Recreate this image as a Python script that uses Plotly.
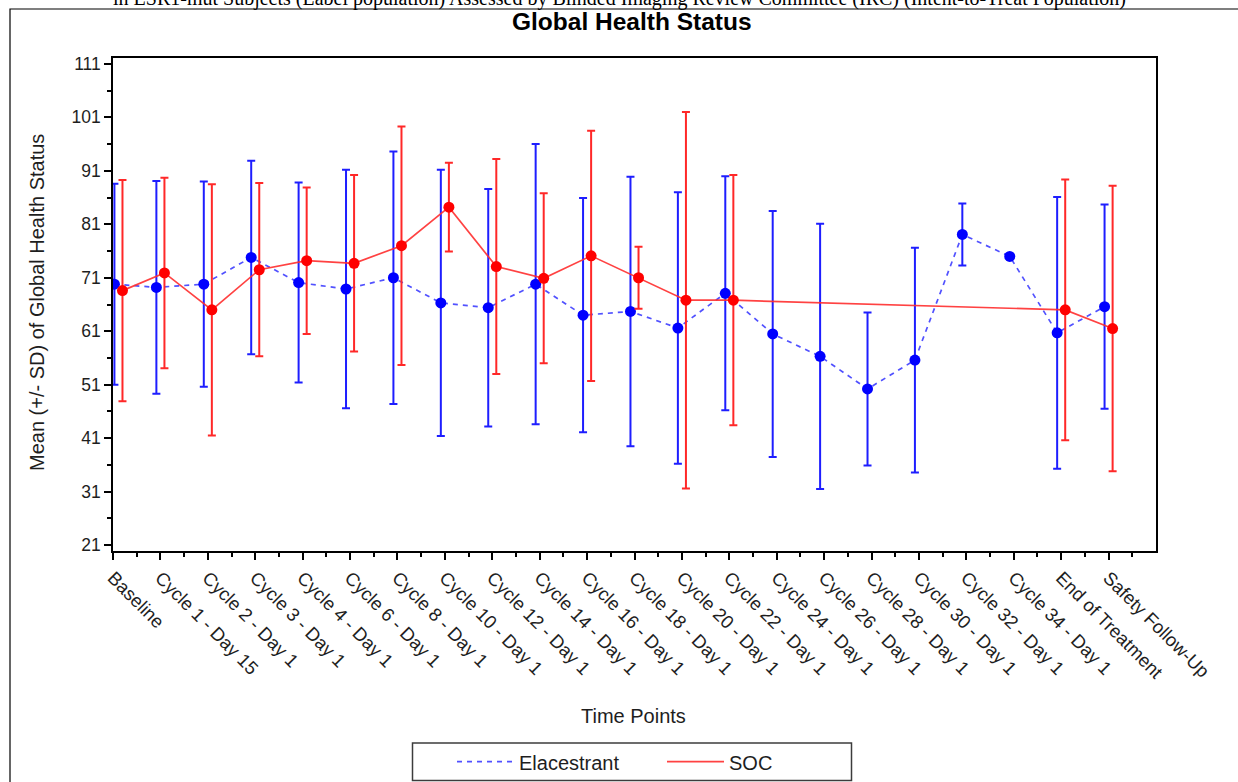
import plotly.graph_objects as go

# ---------------- data ----------------
categories = ["Baseline", "Cycle 1 - Day 15", "Cycle 2 - Day 1", "Cycle 3 - Day 1",
              "Cycle 4 - Day 1", "Cycle 6 - Day 1", "Cycle 8 - Day 1", "Cycle 10 - Day 1",
              "Cycle 12 - Day 1", "Cycle 14 - Day 1", "Cycle 16 - Day 1", "Cycle 18 - Day 1",
              "Cycle 20 - Day 1", "Cycle 22 - Day 1", "Cycle 24 - Day 1", "Cycle 26 - Day 1",
              "Cycle 28 - Day 1", "Cycle 30 - Day 1", "Cycle 32 - Day 1", "Cycle 34 - Day 1",
              "End of Treatment", "Safety Follow-Up"]

elacestrant_mean = [69.8, 69.2, 69.8, 74.8, 70.1, 68.9, 71.0, 66.3, 65.4, 69.8, 64.0,
                    64.7, 61.6, 68.1, 60.5, 56.3, 50.2, 55.6, 79.1, 75.0, 60.7, 65.6]
elacestrant_sd = [18.8, 19.9, 19.2, 18.1, 18.7, 22.3, 23.6, 24.9, 22.2, 26.2, 21.9,
                  25.2, 25.4, 21.9, 23.0, 24.8, 14.3, 21.0, 5.8, None, 25.4, 19.1]

soc_mean = [68.6, 71.9, 65.0, 72.5, 74.2, 73.7, 77.0, 84.2, 73.1, 70.9, 75.1,
            71.0, 66.8, 66.8, None, None, None, None, None, None, 65.0, 61.5]
soc_sd = [20.7, 17.8, 23.5, 16.2, 13.7, 16.5, 22.3, 8.3, 20.1, 15.9, 23.4,
          5.8, 35.2, 23.4, None, None, None, None, None, None, 24.4, 26.7]

y_ticks = [21, 31, 41, 51, 61, 71, 81, 91, 101, 111]

title_text = "Global Health Status"
subtitle_text = ("in ESR1-mut Subjects (Label population) Assessed by Blinded Imaging Review "
                 "Committee (IRC) (Intent-to-Treat Population)")

# ---------------- layout helpers ----------------
W, H = 1238, 782
L, R, T, B = 113, 82, 58, 231
PW, PH = W - L - R, H - T - B


def px_x(p):
    return (p - L) / PW


def px_y(p):
    return (H - B - p) / PH


n = len(categories)
idx = list(range(n))
# cluster positions (first cluster is nudged inside the axis, as in the original)
centers = [i + (0.115 if i == 0 else 0.0) for i in idx]
x_ela = [c - 0.085 for c in centers]
x_soc = [c + 0.085 for c in centers]

BLUE = "rgb(0,0,255)"
RED = "rgb(255,0,0)"
BLUE_LINE = dict(color="rgba(50,50,255,0.85)", width=1.7, dash="5px,5px")
RED_LINE = dict(color="rgba(255,45,45,0.9)", width=1.7)

fig = go.Figure()

fig.add_trace(go.Scatter(
    x=x_ela, y=elacestrant_mean, name="Elacestrant", mode="lines+markers",
    line=BLUE_LINE, marker=dict(color=BLUE, size=11),
    error_y=dict(type="data", array=[s if s is not None else 0 for s in elacestrant_sd],
                 visible=True, color="rgb(30,30,255)", thickness=2, width=4),
    connectgaps=True, showlegend=False,
))
fig.add_trace(go.Scatter(
    x=x_soc, y=soc_mean, name="SOC", mode="lines+markers",
    line=RED_LINE, marker=dict(color=RED, size=11),
    error_y=dict(type="data", array=[s if s is not None else 0 for s in soc_sd],
                 visible=True, color="rgb(255,40,40)", thickness=2, width=4),
    connectgaps=True, showlegend=False,
))
# legend entries (line only, like the original legend)
fig.add_trace(go.Scatter(x=[None], y=[None], name="Elacestrant", mode="lines",
                         line=BLUE_LINE, showlegend=True))
fig.add_trace(go.Scatter(x=[None], y=[None], name="SOC", mode="lines",
                         line=RED_LINE, showlegend=True))

FONT = "Liberation Sans"

fig.update_layout(
    width=W, height=H,
    margin=dict(l=L, r=R, t=T, b=B, autoexpand=False),
    paper_bgcolor="white", plot_bgcolor="white",
    font=dict(family=FONT, size=17, color="black"),
    showlegend=True,
    legend=dict(orientation="h", xref="container", yref="container",
                x=452 / W, xanchor="left", y=1 - 761.7 / H, yanchor="middle",
                font=dict(family=FONT, size=20, color="rgb(30,30,30)"),
                bgcolor="rgba(0,0,0,0)", borderwidth=0,
                entrywidth=138, entrywidthmode="pixels", itemwidth=57),
    xaxis=dict(range=[0, 22], tickmode="array", tickvals=idx, ticktext=categories,
               tickangle=45, ticks="outside", ticklen=7, tickwidth=1.5, tickcolor="black",
               showline=True, linecolor="black", linewidth=1.5, mirror=True,
               showgrid=False, zeroline=False,
               tickfont=dict(family=FONT, size=18.5, color="rgb(30,30,30)"),
               minor=dict(tickmode="array", tickvals=[i + 0.5 for i in idx],
                          ticks="outside", ticklen=4, tickcolor="black", showgrid=False)),
    yaxis=dict(range=[19.9, 112.1], tickmode="array", tickvals=y_ticks,
               ticks="outside", ticklen=7, tickwidth=1.5, tickcolor="black",
               showline=True, linecolor="black", linewidth=1.5, mirror=True,
               showgrid=False, zeroline=False,
               tickfont=dict(family=FONT, size=17.5, color="rgb(30,30,30)"),
               minor=dict(tickmode="array", tickvals=[v + 5 for v in y_ticks[:-1]],
                          ticks="outside", ticklen=4, tickcolor="black", showgrid=False)),
)

annotations = [
    dict(text=title_text, x=px_x(632), y=px_y(22), xref="paper", yref="paper",
         xanchor="center", yanchor="middle", showarrow=False,
         font=dict(family=FONT, size=24.5, color="black", weight="bold")),
    dict(text=subtitle_text, x=px_x(619), y=px_y(12), xref="paper", yref="paper",
         xanchor="center", yanchor="bottom", showarrow=False,
         font=dict(family="Liberation Serif", size=20, color="black")),
    dict(text="Time Points", x=px_x(633), y=px_y(716), xref="paper", yref="paper",
         xanchor="center", yanchor="middle", showarrow=False,
         font=dict(family=FONT, size=20, color="rgb(30,30,30)")),
    dict(text="Mean (+/- SD) of Global Health Status", x=px_x(37), y=px_y(303),
         xref="paper", yref="paper", xanchor="center", yanchor="middle",
         textangle=-90, showarrow=False,
         font=dict(family=FONT, size=20, color="rgb(30,30,30)")),
]
fig.update_layout(annotations=annotations)

shapes = [
    # outer frame
    dict(type="rect", xref="paper", yref="paper",
         x0=px_x(10), x1=px_x(1245), y0=px_y(795), y1=px_y(9),
         line=dict(color="black", width=1.2), fillcolor="rgba(0,0,0,0)", layer="below"),
    # legend box
    dict(type="rect", xref="paper", yref="paper",
         x0=px_x(412.5), x1=px_x(851.5), y0=px_y(780.5), y1=px_y(743),
         line=dict(color="rgb(60,60,60)", width=1.5), fillcolor="white", layer="below"),
]
fig.update_layout(shapes=shapes)

fig.write_html("out.html")
